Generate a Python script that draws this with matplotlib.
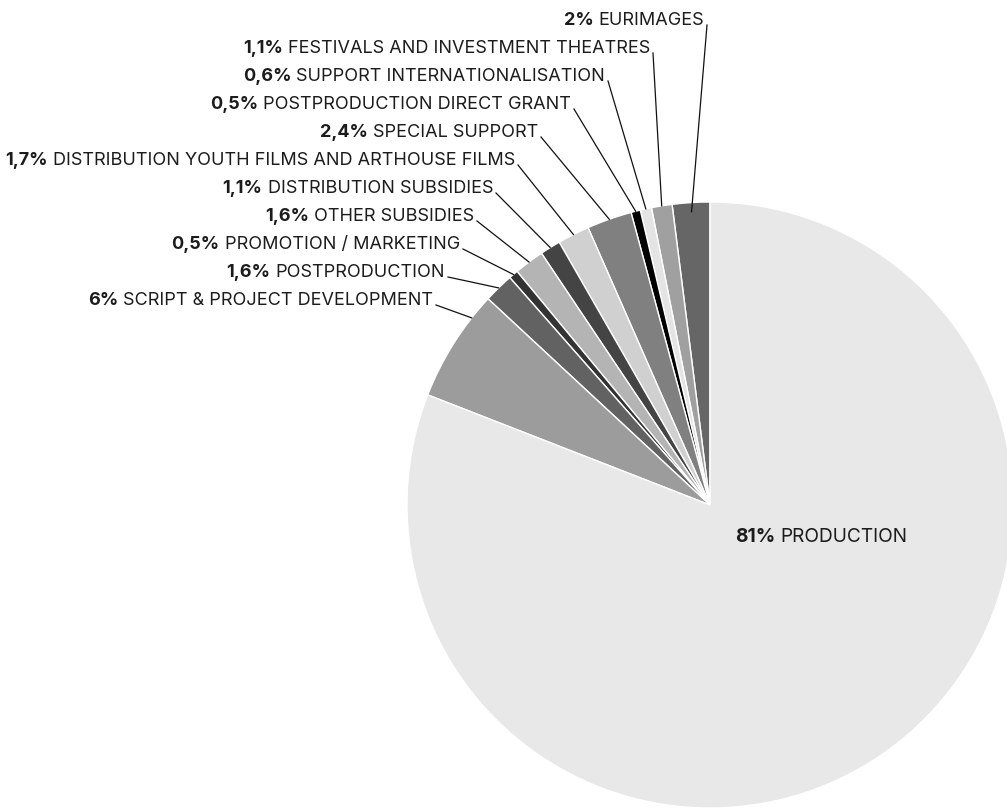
import numpy as np
import matplotlib.pyplot as plt

# shares, counter-clockwise from 12 o'clock
categories = ["EURIMAGES", "FESTIVALS AND INVESTMENT THEATRES", "SUPPORT INTERNATIONALISATION",
              "POSTPRODUCTION DIRECT GRANT", "SPECIAL SUPPORT",
              "DISTRIBUTION YOUTH FILMS AND ARTHOUSE FILMS", "DISTRIBUTION SUBSIDIES",
              "OTHER SUBSIDIES", "PROMOTION / MARKETING", "POSTPRODUCTION",
              "SCRIPT & PROJECT DEVELOPMENT", "PRODUCTION"]
shares = [2, 1.1, 0.6, 0.5, 2.4, 1.7, 1.1, 1.6, 0.5, 1.6, 6, 81]
colors = ["#666666", "#a0a0a0", "#e4e4e4", "#000000", "#808080", "#d0d0d0",
          "#444444", "#b4b4b4", "#333333", "#626262", "#9c9c9c", "#e8e8e8"]

# right ends of the stacked labels (pixels) and where along each wedge the leader ends
label_x_end = [704, 650, 605, 571, 538, 515, 493, 474, 460, 445, 433]
anchor_frac = [0.5, 0.5, 0.5, 0.5, 0.5, 0.5, 0.5, 0.5, 0.5, 0.5, 0.22]

W, H = 1007, 809
CX, CY, R = 710, 505, 303
TXT = "#1c1c1c"
plt.rcParams['font.family'] = ['Inter', 'DejaVu Sans']


def fmt(v):
    return f"{v:g}".replace('.', ',') + '%'


fig = plt.figure(figsize=(W / 100, H / 100), dpi=100)
ax = fig.add_axes([0, 0, 1, 1])

wedges, _ = ax.pie(shares, colors=colors, startangle=90, counterclock=True,
                   center=(CX, H - CY), radius=R,
                   wedgeprops=dict(edgecolor='white', linewidth=1))
ax.set_xlim(0, W)
ax.set_ylim(0, H)
ax.set_aspect('equal')
ax.axis('off')

renderer = fig.canvas.get_renderer()
fs = 13
for i, (name, v) in enumerate(zip(categories[:-1], shares[:-1])):
    y = H - (20 + 28 * i)
    xe = label_x_end[i]
    t = ax.text(xe, y, name, ha='right', va='center', fontsize=fs, color=TXT)
    bb = t.get_window_extent(renderer)
    ax.text(bb.x0 - 5, y, fmt(v), ha='right', va='center', fontsize=fs,
            fontweight='bold', color=TXT)
    w = wedges[i]
    ang = np.deg2rad(w.theta1 + anchor_frac[i] * (w.theta2 - w.theta1))
    rr = R * (0.97 if i == 0 else 1.0)
    ex, ey = CX + rr * np.cos(ang), H - CY + rr * np.sin(ang)
    ax.plot([xe + 3, ex], [y - 5, ey], color='#111111', lw=0.9)

# main slice label
fs_big = 13.8
t = ax.text(735, H - 537, fmt(shares[-1]), ha='left', va='center', fontsize=fs_big,
            fontweight='bold', color=TXT)
bb = t.get_window_extent(renderer)
ax.text(bb.x1 + 5, H - 537, categories[-1], ha='left', va='center', fontsize=fs_big, color=TXT)

plt.savefig('out.png', dpi=100)
